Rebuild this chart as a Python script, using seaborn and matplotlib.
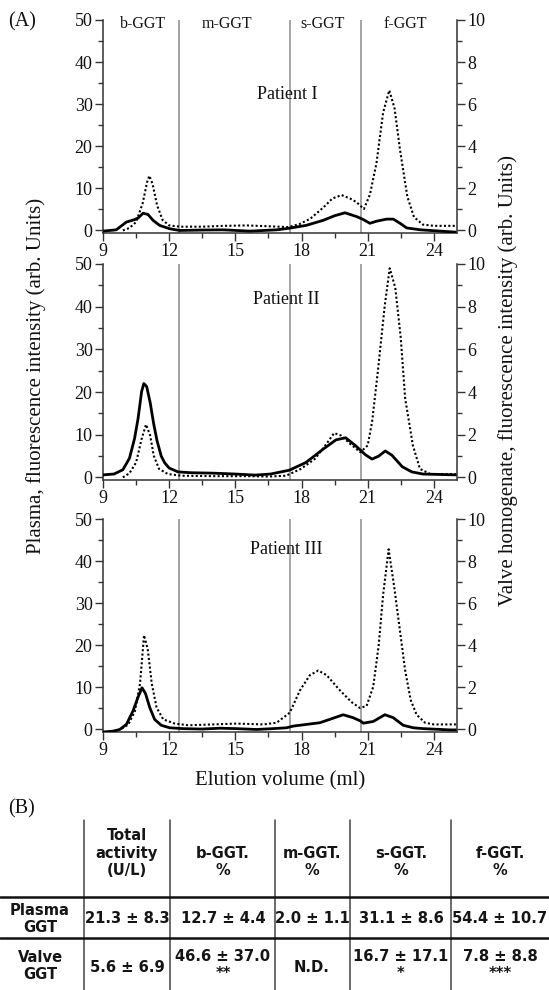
import matplotlib
matplotlib.use("Agg")
import matplotlib.pyplot as plt
import seaborn as sns
import numpy as np
import pandas as pd

# ---------------- data ----------------
# Plasma GGT (dotted, left axis, arb. units)
p1_plasma_x = [9.9, 10.2, 10.5, 10.8, 11.0, 11.1, 11.25, 11.45, 11.7, 12.0, 12.5, 13.5, 14.5, 15.5, 16.5, 17.4,
               17.9, 18.4, 19.0, 19.4, 19.82, 20.2, 20.5, 20.83, 21.1, 21.4, 21.7, 21.98, 22.22, 22.47, 22.8,
               23.1, 23.5, 24.0, 25.0]
p1_plasma_y = [0.0, 0.6, 2.0, 6.5, 11.5, 13.0, 11.0, 6.0, 2.5, 1.2, 0.9, 0.9, 1.1, 1.2, 1.0, 0.8,
               1.5, 2.8, 5.5, 7.6, 8.4, 7.6, 6.7, 5.1, 8.5, 16.0, 28.0, 33.3, 29.0, 19.0, 8.0,
               3.2, 1.4, 1.1, 1.1]
# Valve homogenate GGT (solid, right axis, arb. units)
p1_valve_x = [9.0, 9.6, 10.06, 10.44, 10.6, 10.82, 11.04, 11.27, 11.57, 12.03, 12.48, 13.5, 14.45, 15.66, 16.87,
              17.47, 18.2, 18.98, 19.5, 19.97, 20.5, 20.8, 21.1, 21.4, 21.86, 22.16, 22.47, 22.77, 23.4, 24.3, 25.0]
p1_valve_y = [-0.03, 0.03, 0.40, 0.52, 0.60, 0.82, 0.76, 0.48, 0.24, 0.08, 0.0, 0.02, 0.03, -0.03, 0.03,
              0.11, 0.24, 0.48, 0.70, 0.84, 0.66, 0.52, 0.34, 0.44, 0.54, 0.54, 0.34, 0.12, 0.03, -0.03, -0.08]

p2_plasma_x = [9.9, 10.2, 10.5, 10.75, 10.95, 11.14, 11.3, 11.54, 11.94, 12.57, 14.0, 15.5, 16.5, 17.3, 17.97,
               18.6, 19.08, 19.48, 19.8, 20.2, 20.67, 21.0, 21.2, 21.46, 21.78, 22.0, 22.25, 22.5, 22.7, 23.05,
               23.37, 23.84, 25.0]
p2_plasma_y = [0.0, 1.0, 3.5, 9.0, 12.4, 9.8, 5.1, 2.0, 0.8, 0.4, 0.3, 0.3, 0.2, 0.4, 2.0,
               4.3, 7.5, 10.4, 9.8, 7.9, 5.9, 7.5, 13.0, 24.8, 40.5, 49.0, 44.5, 32.7, 18.5, 7.5,
               2.0, 0.8, 0.8]
p2_valve_x = [9.0, 9.5, 9.9, 10.2, 10.43, 10.59, 10.75, 10.85, 10.98, 11.14, 11.3, 11.45, 11.64, 11.8, 12.0,
              12.4, 13.0, 14.0, 15.0, 15.9, 16.6, 17.45, 18.2, 18.95, 19.56, 20.0, 20.46, 20.9, 21.2, 21.5,
              21.8, 22.1, 22.57, 23.0, 23.5, 25.0]
p2_valve_y = [0.12, 0.16, 0.36, 0.90, 1.82, 2.76, 4.02, 4.40, 4.26, 3.50, 2.50, 1.72, 1.00, 0.68, 0.44,
              0.26, 0.22, 0.20, 0.16, 0.11, 0.16, 0.34, 0.70, 1.30, 1.76, 1.86, 1.48, 1.06, 0.86, 1.00,
              1.24, 1.04, 0.50, 0.26, 0.16, 0.12]

p3_plasma_x = [9.85, 10.15, 10.45, 10.68, 10.86, 11.03, 11.21, 11.43, 11.73, 12.26, 12.87, 14.0, 15.05, 16.26,
               16.87, 17.47, 17.93, 18.38, 18.76, 19.14, 19.74, 20.27, 20.65, 20.95, 21.25, 21.5, 21.7, 21.95,
               22.2, 22.45, 22.7, 22.95, 23.22, 23.6, 24.0, 25.0]
p3_plasma_y = [0.2, 1.2, 4.4, 10.9, 22.4, 19.0, 10.9, 5.2, 2.4, 1.4, 1.0, 1.2, 1.4, 1.2,
               1.6, 4.0, 9.3, 12.9, 14.0, 12.9, 9.3, 6.5, 5.1, 5.6, 10.1, 20.0, 32.0, 42.8,
               34.0, 24.0, 14.0, 7.0, 3.5, 1.6, 1.2, 1.2]
p3_valve_x = [9.0, 9.45, 9.76, 10.06, 10.36, 10.59, 10.77, 10.93, 11.12, 11.34, 11.64, 12.02, 12.63, 13.5, 14.3,
              15.05, 15.96, 16.7, 17.32, 17.62, 18.22, 18.83, 19.28, 19.89, 20.34, 20.68, 20.8, 21.25, 21.78,
              22.16, 22.61, 23.07, 23.52, 24.73, 25.0]
p3_valve_y = [-0.12, -0.08, 0.0, 0.24, 0.88, 1.54, 1.98, 1.70, 1.04, 0.48, 0.20, 0.08, 0.04, 0.02, 0.06,
              0.04, 0.0, 0.04, 0.08, 0.16, 0.24, 0.32, 0.48, 0.70, 0.56, 0.40, 0.30, 0.38, 0.70,
              0.56, 0.20, 0.08, 0.04, -0.02, -0.02]

patients = ["Patient I", "Patient II", "Patient III"]
patient_pos = [(17.35, 32.2), (17.3, 41.8), (17.3, 42.8)]
boundaries = [12.46, 17.47, 20.72]
region_names = ["b-GGT", "m-GGT", "s-GGT", "f-GGT"]
region_x = [10.8, 14.6, 18.95, 22.7]

x_ticks = [9, 12, 15, 18, 21, 24]
x_minor = [10.5, 13.5, 16.5, 19.5, 22.5]
left_ticks = [0, 10, 20, 30, 40, 50]
left_minor = [5, 15, 25, 35, 45]
right_ticks = [0, 2, 4, 6, 8, 10]
right_minor = [1, 3, 5, 7, 9]

left_label = "Plasma, fluorescence intensity (arb. Units)"
right_label = "Valve homogenate, fluorescence intensity (arb. Units)"
x_label = "Elution volume (ml)"

# table (B)
col_headers = ["Total\nactivity\n(U/L)", "b-GGT.\n%", "m-GGT.\n%", "s-GGT.\n%", "f-GGT.\n%"]
row_labels = ["Plasma\nGGT", "Valve\nGGT"]
plasma_vals = ["21.3 ± 8.3", "12.7 ± 4.4", "2.0 ± 1.1", "31.1 ± 8.6", "54.4 ± 10.7"]
valve_vals = ["5.6 ± 6.9", "46.6 ± 37.0", "N.D.", "16.7 ± 17.1", "7.8 ± 8.8"]
valve_sig = ["", "**", "", "*", "***"]

# ---------------- drawing ----------------
sns.set_theme(style="ticks")
plt.rcParams["font.family"] = ["Liberation Serif", "DejaVu Serif"]

W, H = 549.0, 990.0
fig = plt.figure(figsize=(W / 100, H / 100), dpi=100)
fig.patch.set_facecolor("white")


def rect(l, t, r, b):
    return [l / W, 1 - b / H, (r - l) / W, (b - t) / H]


panel_rects = [rect(103, 20, 457, 233), rect(103, 264, 457, 480), rect(103, 519, 457, 732)]
panel_data = [(p1_plasma_x, p1_plasma_y, p1_valve_x, p1_valve_y),
              (p2_plasma_x, p2_plasma_y, p2_valve_x, p2_valve_y),
              (p3_plasma_x, p3_plasma_y, p3_valve_x, p3_valve_y)]

spine_col = "#333333"
axes = []
for i, (r, (px, py, vx, vy)) in enumerate(zip(panel_rects, panel_data)):
    ax = fig.add_axes(r)
    ax.set_facecolor("white")
    ax2 = ax.twinx()
    for b in boundaries:
        ax.axvline(b, color="#8c8c8c", lw=1.1, zorder=0)
    sns.lineplot(x=px, y=py, ax=ax, color="black", lw=1.5, linestyle=(0, (1.0, 1.1)),
                 estimator=None, sort=False)
    sns.lineplot(x=vx, y=vy, ax=ax2, color="black", lw=2.0, estimator=None, sort=False)
    ax.set_xlim(9, 25.05)
    ax.set_ylim(-0.6, 50)
    ax2.set_ylim(-0.12, 10)
    ax.set_xticks(x_ticks)
    ax.set_xticks(x_minor, minor=True)
    ax.set_yticks(left_ticks)
    ax.set_yticks(left_minor, minor=True)
    ax2.set_yticks(right_ticks)
    ax2.set_yticks(right_minor, minor=True)
    ax.set_xticklabels([str(t) for t in x_ticks])
    ax.set_yticklabels([str(t) for t in left_ticks])
    ax2.set_yticklabels([str(t) for t in right_ticks])
    for a in (ax, ax2):
        a.spines["top"].set_visible(False)
        for s in a.spines.values():
            s.set_color(spine_col)
            s.set_linewidth(1.1)
        a.tick_params(which="major", direction="out", length=6, width=1.0, color=spine_col,
                      labelsize=13, pad=1.5, labelcolor="#111111")
        a.tick_params(which="minor", direction="out", length=3.5, width=1.0, color=spine_col)
        a.set_xlabel("")
        a.set_ylabel("")
        a.grid(False)
    ax.spines["right"].set_visible(False)
    ax2.spines["left"].set_visible(False)
    ax2.spines["bottom"].set_visible(False)
    tx, ty = patient_pos[i]
    ax.text(tx, ty, patients[i], ha="center", va="center", fontsize=13, color="#111111")
    axes.append(ax)

for name, xr in zip(region_names, region_x):
    axes[0].text(xr, 49.0, name, ha="center", va="center", fontsize=11.5, color="#111111")

fig.text(8 / W, 1 - 22 / H, "(A)", ha="left", va="center", fontsize=14.5, color="#111111")
fig.text(36 / W, 1 - 376 / H, left_label, rotation=90, ha="center", va="center", fontsize=15,
         color="#111111")
fig.text(508 / W, 1 - 380 / H, right_label, rotation=90, ha="center", va="center", fontsize=15,
         color="#111111")
fig.text(280 / W, 1 - 781 / H, x_label, ha="center", va="center", fontsize=15, color="#111111")

# ---------------- table ----------------
tax = fig.add_axes([0, 0, 1, 1 - 800 / H])
tax.set_xlim(0, W)
tax.set_ylim(H, 800)
tax.axis("off")

fig.text(8 / W, 1 - 809 / H, "(B)", ha="left", va="center", fontsize=14.5, color="#111111")

tfont = dict(family=["DejaVu Sans"], fontstretch="condensed", weight="bold",
             fontsize=11.8, color="#151515")
col_lines = [84, 170, 275, 350, 451]
col_centers = [127, 223, 312, 401, 500]
label_center = 40

for xl in col_lines:
    tax.plot([xl, xl], [820, H], color="#444444", lw=1.1)
tax.plot([0, W], [897, 897], color="#111111", lw=1.8)
tax.plot([0, W], [938, 938], color="#111111", lw=1.8)

for j, (h, cx) in enumerate(zip(col_headers, col_centers)):
    tax.text(cx, 853 if j == 0 else 862, h, ha="center", va="center", linespacing=1.2, **tfont)

tax.text(label_center, 919, row_labels[0], ha="center", va="center", linespacing=1.15, **tfont)
tax.text(label_center, 966, row_labels[1], ha="center", va="center", linespacing=1.2, **tfont)

for j, cx in enumerate(col_centers):
    tax.text(cx, 918, plasma_vals[j], ha="center", va="center", **tfont)
    if valve_sig[j]:
        tax.text(cx, 956, valve_vals[j], ha="center", va="center", **tfont)
        tax.text(cx, 973, valve_sig[j], ha="center", va="center", **tfont)
    else:
        tax.text(cx, 967, valve_vals[j], ha="center", va="center", **tfont)

fig.savefig("out.png", dpi=100, facecolor="white")
